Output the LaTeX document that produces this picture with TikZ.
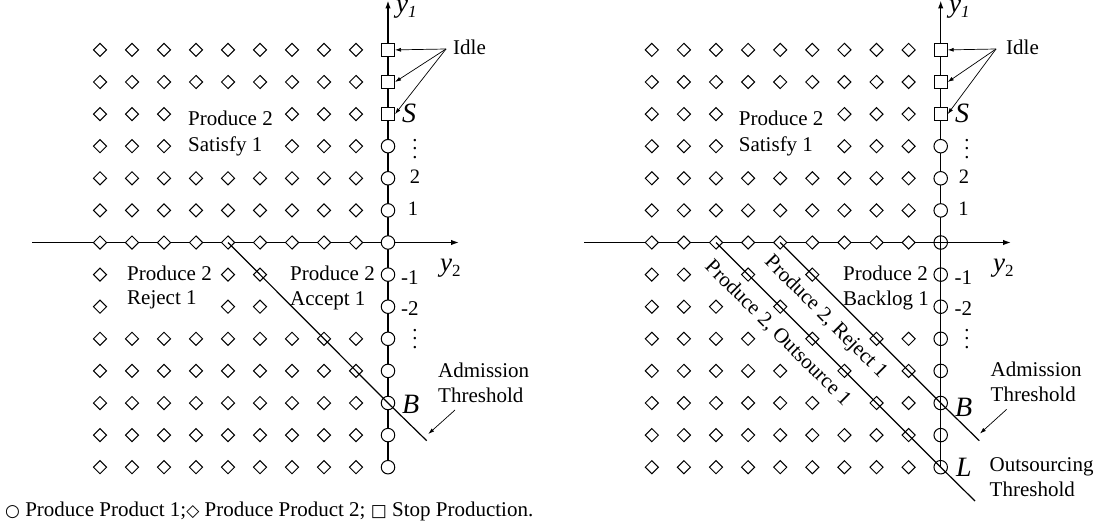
\documentclass[tikz,border=0pt]{standalone}
\usepackage{fontspec}
\setmainfont{Liberation Serif}
\newfontfamily\symfont{DejaVu Sans}
\usetikzlibrary{shapes.geometric,arrows.meta}
\newcommand\subs[1]{\raisebox{-5pt}{\fontsize{17}{17}\selectfont #1}}
\newcommand\myvdots{\vbox{\baselineskip=8.3pt\lineskiplimit=-20pt\hbox{.}\hbox{.}\hbox{.}}}
\newcommand\symb[1]{{\symfont\fontsize{17}{17}\selectfont #1}}
\begin{document}
\begin{tikzpicture}[x=1pt,y=-1pt,
  dia/.style={diamond,draw,fill=white,line width=1pt,inner sep=0pt,minimum width=13.5pt,minimum height=13.5pt},
  circ/.style={circle,draw,fill=white,line width=1pt,inner sep=0pt,minimum size=13.5pt},
  hcirc/.style={circ,fill=none},
  sq/.style={rectangle,draw,fill=white,line width=1pt,inner sep=0pt,minimum size=13pt},
  axis/.style={line width=1.4pt,-{Latex[length=8pt,width=5.5pt]}},
  thr/.style={line width=1.2pt},
  pointer/.style={line width=0.7pt,-{Latex[length=6pt,width=4pt]}},
  lbl/.style={font=\fontsize{21}{24}\selectfont,inner sep=0pt,anchor=base west},
  num/.style={font=\fontsize{20.5}{24}\selectfont,inner sep=0pt,anchor=base},
  rot/.style={font=\fontsize{21}{24}\selectfont,inner sep=0pt,anchor=center,rotate=-45},
  big/.style={font=\fontsize{28}{30}\selectfont\itshape,inner sep=0pt,anchor=base west},
  axl/.style={font=\fontsize{27}{28}\selectfont,inner sep=0pt,anchor=base west}
]
\useasboundingbox (0,0) rectangle (1102,527);

% ================= Left panel =================
\coordinate (LW) at (32,242.5);
\coordinate (LE) at (459,242.5);
\coordinate (LS) at (388,467.2);
\coordinate (LN) at (388,0.5);
\draw[axis] (LW) -- (LE);
\draw[axis] (LS) -- (LN);
\foreach \k/\cols in {0/{1,...,9},1/{1,...,9},2/{1,2,3,7,8,9},3/{1,2,3,7,8,9},4/{1,...,9},5/{1,...,9},6/{1,...,9},7/{1,5,6},8/{1,5,6},9/{1,...,9},10/{1,...,9},11/{1,...,9},12/{1,...,9},13/{1,...,9}}{
  \foreach \i in \cols {
    \node[dia] (L-\i-\k) at ({388+(\i-10)*32},{242.5+(\k-6)*32.1}) {};
  }
}
\foreach \k in {0,1,2} \node[sq] (L-10-\k) at (388,{242.5+(\k-6)*32.1}) {};
\foreach \k in {3,...,13} \node[circ] (L-10-\k) at (388,{242.5+(\k-6)*32.1}) {};
\coordinate (LT) at (426.7,440.7);
\draw[thr] (L-5-6.center) -- (L-10-11.center) -- (LT);

\node[lbl] (LP1) at (188,125) {Produce 2};
\node[lbl] (LS1) at (188,151) {Satisfy 1};
\node[lbl] (LP2) at (127,280) {Produce 2};
\node[lbl] (LR1) at (127,304) {Reject 1};
\node[lbl] (LP3) at (290,280) {Produce 2};
\node[lbl] (LA1) at (290,305) {Accept 1};
\node[num] (Ln1) at (413,215) {1};
\node[num] (Ln2) at (415,183) {2};
\node[num] (Lvd1) at (415,158) {\myvdots};
\node[lbl] (Lm1) at (401,284) {-1};
\node[lbl] (Lm2) at (401,315) {-2};
\node[num] (Lvd2) at (415,348) {\myvdots};
\node[big] (LSS) at (402,122.7) {S};
\node[big] (LBB) at (402,413) {B};
\node[axl] (Ly1) at (396,13) {\textit{y}\subs{\textit{1}}};
\node[axl] (Ly2) at (440,271.5) {\textit{y}\subs{2}};
\node[lbl] (LIdle) at (453,55) {Idle};
\coordinate (LIo) at (446,49);
\draw[pointer] (LIo) -- (L-10-0.east);
\draw[pointer] (LIo) -- (L-10-1.east);
\draw[pointer] (LIo) -- (L-10-2.east);
\node[lbl] (LAd) at (438,377) {Admission};
\node[lbl] (LTh) at (438,402) {Threshold};
\coordinate (LAa) at (455,410);
\coordinate (LAb) at (428.3,434);
\draw[pointer] (LAa) -- (LAb);

% ================= Right panel =================
\coordinate (RW) at (584,242.5);
\coordinate (RE) at (1011,242.5);
\coordinate (RS) at (940.7,467.2);
\coordinate (RN) at (940.7,0.5);
\draw[axis] (RW) -- (RE);
\draw[axis] (RS) -- (RN);
\foreach \k/\cols in {0/{1,...,9},1/{1,...,9},2/{1,2,3,7,8,9},3/{1,2,3,7,8,9},4/{1,...,9},5/{1,...,9},6/{1,...,9},7/{1,2,4,6},8/{1,2,3,5},9/{1,2,3,4,6,8,9},10/{1,2,3,4,5,7,9},11/{1,2,3,4,5,6,8,9},12/{1,...,9},13/{1,...,9}}{
  \foreach \i in \cols {
    \node[dia] (R-\i-\k) at ({940.7+(\i-10)*32.1},{242.5+(\k-6)*32.1}) {};
  }
}
\foreach \k in {0,1,2} \node[sq] (R-10-\k) at (940.7,{242.5+(\k-6)*32.1}) {};
\foreach \k in {3,4,5} \node[circ] (R-10-\k) at (940.7,{242.5+(\k-6)*32.1}) {};
\foreach \k in {6,...,13} \node[hcirc] (R-10-\k) at (940.7,{242.5+(\k-6)*32.1}) {};
\coordinate (RAe) at (979.3,440.7);
\coordinate (RBe) at (975,501);
\draw[thr] (R-5-6.center) -- (R-10-11.center) -- (RAe);
\draw[thr] (R-3-6.center) -- (R-10-13.center) -- (RBe);

\node[lbl] (RP1) at (738.7,125) {Produce 2};
\node[lbl] (RS1) at (738.7,151) {Satisfy 1};
\node[lbl] (RP2) at (843,280) {Produce 2};
\node[lbl] (RBk) at (843,305) {Backlog 1};
\node[rot] (RRj) at (825.5,317.5) {Produce 2, Reject 1};
\node[rot] (ROs) at (777.9,333.5) {Produce 2, Outsource 1};
\node[num] (Rn1) at (963.5,215) {1};
\node[num] (Rn2) at (964,183) {2};
\node[num] (Rvd1) at (967,158) {\myvdots};
\node[lbl] (Rm1) at (954.5,284) {-1};
\node[lbl] (Rm2) at (954.5,315) {-2};
\node[num] (Rvd2) at (967,348) {\myvdots};
\node[big] (RSS) at (955,122.7) {S};
\node[big] (RBB) at (955,416.7) {B};
\node[big] (RLL) at (956,476) {L};
\node[axl] (Ry1) at (949,13) {\textit{y}\subs{\textit{1}}};
\node[axl] (Ry2) at (993,271) {\textit{y}\subs{2}};
\node[lbl] (RIdle) at (1006,55) {Idle};
\coordinate (RIo) at (996,49);
\draw[pointer] (RIo) -- (R-10-0.east);
\draw[pointer] (RIo) -- (R-10-1.east);
\draw[pointer] (RIo) -- (R-10-2.east);
\node[lbl] (RAd) at (990.5,376) {Admission};
\node[lbl] (RTh) at (990.5,401) {Threshold};
\coordinate (RAa) at (1006.7,409.3);
\coordinate (RAb) at (980,433.5);
\draw[pointer] (RAa) -- (RAb);
\node[lbl] (ROut) at (989.5,471.7) {Outsourcing};
\node[lbl] (ROTh) at (989.5,496.7) {Threshold};

% ================= Legend =================
\node[lbl] (legend) at (5,516.7) {\symb{○} Produce Product 1;\symb{◇} Produce Product 2; \symb{□} Stop Production.};
\end{tikzpicture}
\end{document}
